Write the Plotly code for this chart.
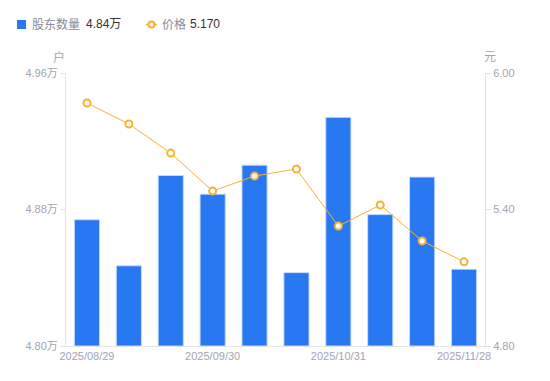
import plotly.graph_objects as go

dates = ["2025/08/29", "2025/09/10", "2025/09/19", "2025/09/30", "2025/10/10",
         "2025/10/20", "2025/10/31", "2025/11/10", "2025/11/20", "2025/11/28"]
holders = [4.874, 4.847, 4.900, 4.889, 4.906, 4.843, 4.934, 4.877, 4.899, 4.845]  # 万户
prices = [5.868, 5.776, 5.648, 5.481, 5.547, 5.578, 5.327, 5.420, 5.262, 5.170]
x_ticks = ["2025/08/29", "2025/09/30", "2025/10/31", "2025/11/28"]
left_ticks = [4.80, 4.88, 4.96]
right_ticks = [4.80, 5.40, 6.00]

BLUE = "#2878F2"
ORANGE = "#F8B132"
GRAY = "#A3A3B3"
AXIS = "#E3E3E8"
FONT = "Liberation Sans, Noto Sans CJK SC, sans-serif"

L, R, T, B = 66, 65, 73, 35
PW, PH = 550 - L - R, 381 - T - B


def px(x):
    return (x - L) / PW


def py(y):
    return (381 - B - y) / PH


fig = go.Figure()
fig.add_trace(go.Bar(
    x=dates, y=[h - left_ticks[0] for h in holders], base=left_ticks[0],
    marker=dict(color=BLUE, line=dict(color="rgba(200,220,255,0.9)", width=1)),
    width=0.6, yaxis="y", name="股东数量"))
fig.add_trace(go.Scatter(
    x=dates, y=prices, yaxis="y2", mode="lines+markers", name="价格",
    line=dict(color=ORANGE, width=1),
    marker=dict(symbol="circle", size=7, color="white", line=dict(color=ORANGE, width=2))))

fig.update_layout(
    width=550, height=381,
    margin=dict(l=L, r=R, t=T, b=B, autoexpand=False),
    plot_bgcolor="white", paper_bgcolor="white",
    showlegend=False,
    font=dict(family=FONT, size=11, color=GRAY),
    xaxis=dict(type="category", range=[-0.5, len(dates) - 0.5], tickmode="array",
               tickvals=x_ticks, ticktext=x_ticks,
               showline=True, linecolor=AXIS, linewidth=1, ticks="", showgrid=False,
               tickfont=dict(size=11, color=GRAY), zeroline=False, automargin=False),
    yaxis=dict(range=[left_ticks[0], left_ticks[-1]], tickmode="array", tickvals=left_ticks,
               ticktext=[f"{v:.2f}万" for v in left_ticks], showline=True, linecolor=AXIS, linewidth=1,
               ticks="outside", ticklen=5, tickcolor=AXIS, showgrid=False, zeroline=False,
               tickfont=dict(size=11, color=GRAY), automargin=False),
    yaxis2=dict(range=[right_ticks[0], right_ticks[-1]], tickmode="array", tickvals=right_ticks,
                ticktext=[f"{v:.2f}" for v in right_ticks],
                overlaying="y", side="right", showline=True, linecolor=AXIS, linewidth=1,
                ticks="outside", ticklen=5, tickcolor=AXIS, showgrid=False, zeroline=False,
                tickfont=dict(size=11, color=GRAY), automargin=False),
)

# axis unit titles
fig.add_annotation(text="户", xref="paper", yref="paper", x=px(59), y=py(57),
                   showarrow=False, font=dict(size=12, color=GRAY), xanchor="center", yanchor="middle")
fig.add_annotation(text="元", xref="paper", yref="paper", x=px(490), y=py(57),
                   showarrow=False, font=dict(size=12, color=GRAY), xanchor="center", yanchor="middle")

# custom legend
LY = 24.5
fig.add_shape(type="rect", xref="paper", yref="paper",
              x0=px(17), x1=px(26), y0=py(29), y1=py(20),
              fillcolor=BLUE, line=dict(width=0), layer="above")
fig.add_annotation(text="股东数量", xref="paper", yref="paper", x=px(30), y=py(LY),
                   showarrow=False, xanchor="left", yanchor="middle", font=dict(size=12, color="#8A8A99"))
fig.add_annotation(text="4.84万", xref="paper", yref="paper", x=px(84), y=py(LY),
                   showarrow=False, xanchor="left", yanchor="middle", font=dict(size=12, color="#333333"))
fig.add_shape(type="line", xref="paper", yref="paper",
              x0=px(146), x1=px(157), y0=py(LY), y1=py(LY),
              line=dict(color=ORANGE, width=1.5))
fig.add_shape(type="circle", xref="paper", yref="paper",
              x0=px(148.5), x1=px(154.5), y0=py(LY + 3), y1=py(LY - 3),
              fillcolor="white", line=dict(color=ORANGE, width=2))
fig.add_annotation(text="价格", xref="paper", yref="paper", x=px(160), y=py(LY),
                   showarrow=False, xanchor="left", yanchor="middle", font=dict(size=12, color="#8A8A99"))
fig.add_annotation(text="5.170", xref="paper", yref="paper", x=px(188), y=py(LY),
                   showarrow=False, xanchor="left", yanchor="middle", font=dict(size=12, color="#333333"))

fig.write_html("out.html", config={"displayModeBar": False},
               post_script="document.body.style.margin='0';")
